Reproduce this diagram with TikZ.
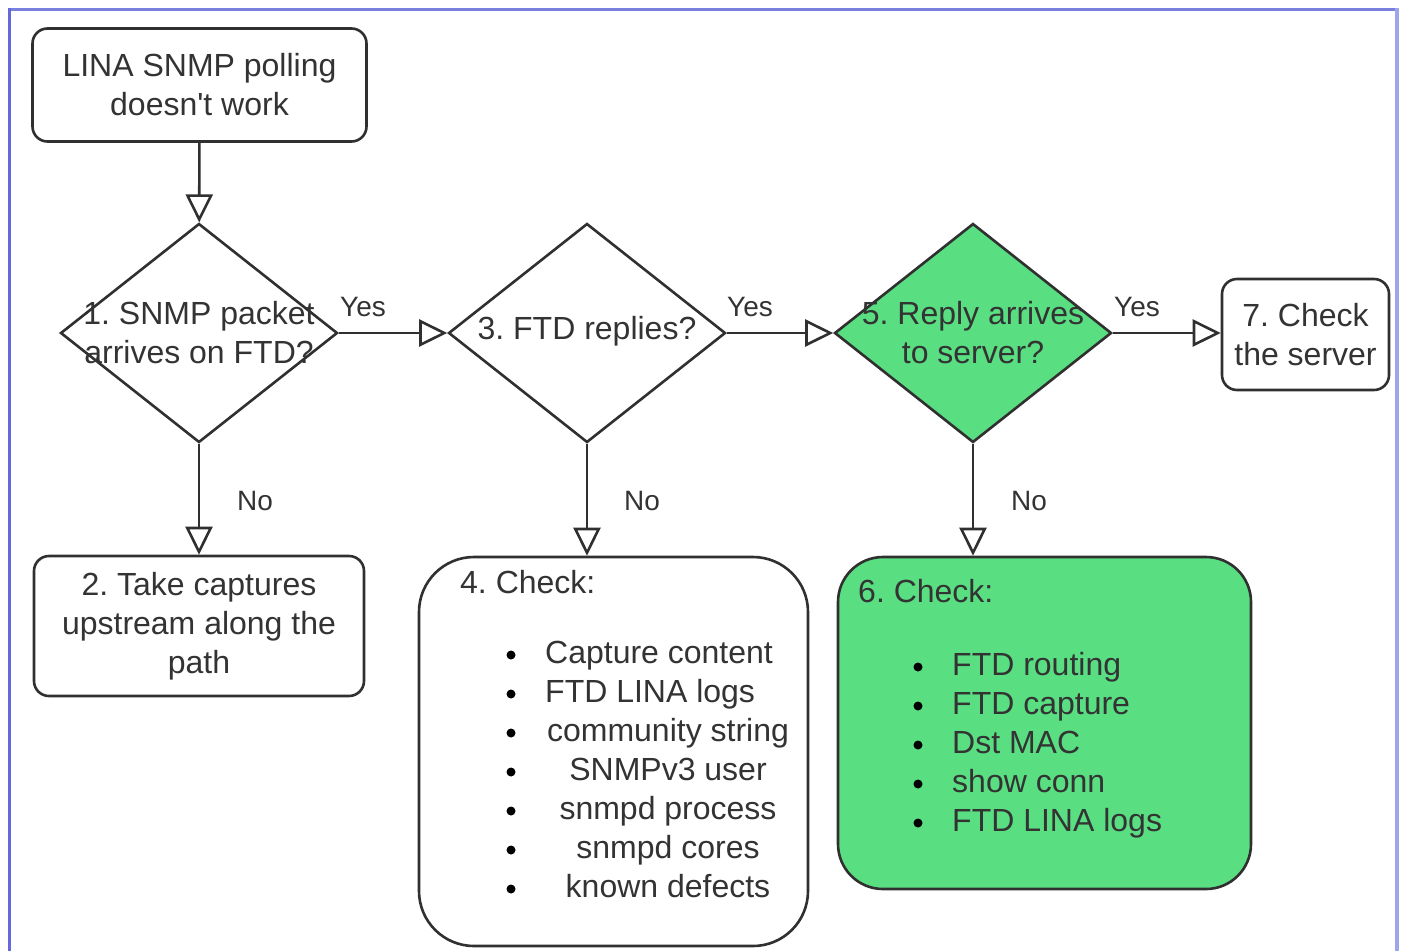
\documentclass[tikz,border=0pt]{standalone}
\usepackage{fontspec}
\setmainfont{Liberation Sans}
\frenchspacing
\usetikzlibrary{shapes.geometric,arrows.meta}
\definecolor{txt}{HTML}{333333}
\definecolor{lin}{HTML}{303030}
\definecolor{gfill}{RGB}{89,222,130}
\definecolor{bordT}{HTML}{7A80E0}
\definecolor{bordL}{HTML}{6468DA}
\definecolor{bordR}{HTML}{A0A5EA}
\begin{document}
\begin{tikzpicture}[x=1pt,y=-1pt,
  every node/.style={font=\fontsize{32}{39}\selectfont, text=txt},
  box/.style={draw=lin, line width=2.6pt, rounded corners=15pt, fill=white, inner sep=0pt, align=center},
  dia/.style={draw=lin, diamond, line width=2.6pt, minimum width=277pt, minimum height=219pt, inner sep=0pt, fill=white},
  arr/.style={draw=lin, line width=2.6pt, -{Triangle[open, length=28pt, width=27pt]}},
  lbl/.style={font=\fontsize{28}{34}\selectfont},
  item/.style={text height=23pt, text depth=7pt, inner sep=0pt},
  dot/.style={fill=black}
  ]
\useasboundingbox (0,0) rectangle (1402,951);
% frame
\draw[bordT, line width=3pt] (8,9.5) -- (1397,9.5);
\draw[bordL, line width=3pt] (9.5,8) -- (9.5,951);
\draw[bordR, line width=4pt] (1397,8) -- (1397,951);

% nodes
\node[box, minimum width=334pt, minimum height=113pt] (start) at (199.5,85) {LINA SNMP polling\\doesn\textquotesingle t work};
\node[dia] (d1) at (199,333) {};
\node[align=center, inner sep=0pt] (t1) at (199,333) {1. SNMP packet\\arrives on FTD?};
\node[dia] (d3) at (587,333) {};
\node[align=center, inner sep=0pt] (t3) at (587,331) {3. FTD replies?};
\node[dia, fill=gfill] (d5) at (973,333) {};
\node[align=center, inner sep=0pt] (t5) at (973,333) {5. Reply arrives\\to server?};
\node[box, minimum width=167pt, minimum height=111pt] (n7) at (1305.5,334.5) {7. Check\\the server};
\node[box, minimum width=330pt, minimum height=140pt] (n2) at (199,626) {2. Take captures\\upstream along the\\path};
\node[box, rounded corners=55pt, minimum width=389pt, minimum height=389pt] (n4) at (613.5,751.5) {};
\node[box, rounded corners=45pt, minimum width=413pt, minimum height=332pt, fill=gfill] (n6) at (1044.5,723) {};

% node 4 content
\node[item, anchor=west] (h4) at (460,585) {4. Check:};
\node[item, anchor=west] (i4-0) at (545,655) {Capture content};
\node[item, anchor=west] (i4-1) at (545,694) {FTD LINA logs};
\foreach \t [count=\i from 2] in {community string,SNMPv3 user,snmpd process,snmpd cores,known defects}{
  \node[item] (i4-\i) at (668,{655+39*\i}) {\t};
}
\foreach \i in {0,...,6}{
  \fill[dot] (511,{655+39*\i}) circle[radius=4.5pt];
}
% node 6 content
\node[item, anchor=west] (h6) at (858,594) {6. Check:};
\foreach \t [count=\i from 0] in {FTD routing,FTD capture,Dst MAC,show conn,FTD LINA logs}{
  \fill[dot] (918,{667+39*\i}) circle[radius=4.5pt];
  \node[item, anchor=west] (i6-\i) at (952,{667+39*\i}) {\t};
}

% connectors
\draw[arr] (start) -- (d1);
\draw[arr] (d1) -- (d3);
\draw[arr] (d3) -- (d5);
\draw[arr] (d5.east) -- (d5.east -| n7.west);
\draw[arr] (d1) -- (n2);
\draw[arr] (d3.south) -- (d3.south |- n4.north);
\draw[arr] (d5.south) -- (d5.south |- n6.north);

% labels
\node[lbl] (y1) at (363,307) {Yes};
\node[lbl] (y2) at (750,307) {Yes};
\node[lbl] (y3) at (1137,307) {Yes};
\node[lbl] (no1) at (255,501) {No};
\node[lbl] (no2) at (642,501) {No};
\node[lbl] (no3) at (1029,501) {No};
\end{tikzpicture}
\end{document}
